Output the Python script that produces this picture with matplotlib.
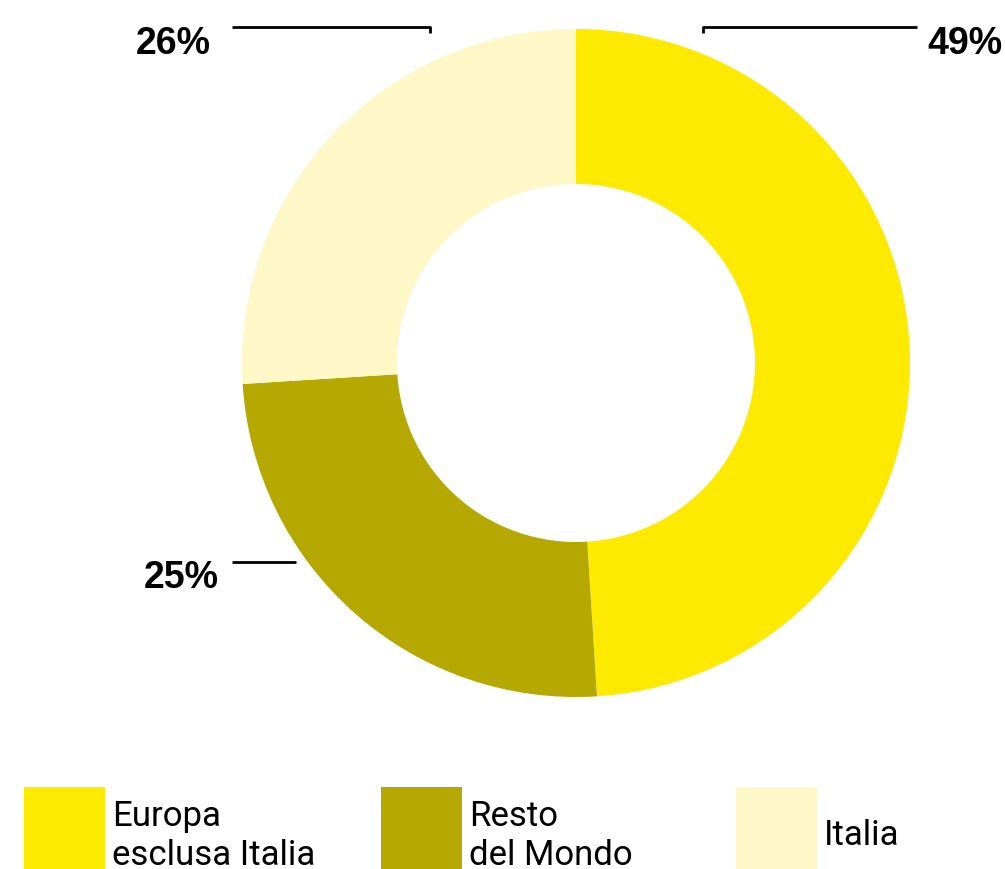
import matplotlib
matplotlib.use("Agg")
import matplotlib.pyplot as plt
from matplotlib.patches import Rectangle

# ---- DATA ----
labels = ["Europa\nesclusa Italia", "Resto\ndel Mondo", "Italia"]
shares = [49, 25, 26]
colors = ["#FDEA00", "#B5A800", "#FEF8C9"]

# ---- FIGURE (pixel coordinates, origin bottom-left) ----
W, H = 1005, 870
fig = plt.figure(figsize=(W / 100, H / 100), dpi=100)
ax = fig.add_axes([0, 0, 1, 1])

cx, cy = 576, H - 364
R, r = 334, 179
ax.pie(shares, colors=colors, startangle=90, counterclock=False,
       center=(cx, cy), radius=R, frame=True,
       wedgeprops=dict(width=R - r, linewidth=0))
ax.set_xlim(0, W)
ax.set_ylim(0, H)
ax.set_aspect("equal")
ax.axis("off")

# percentage labels with leader lines
pct_font = dict(family="Liberation Sans", fontsize=27, fontweight="bold", color="black")
lw = 2.0
# Europa
ax.plot([703, 703, 917], [H - 34, H - 28, H - 28], color="black", lw=lw, solid_capstyle="butt")
ax.text(927, H - 44, f"{shares[0]}%", ha="left", va="center", **pct_font)
# Italia
ax.plot([232, 430, 430], [H - 28, H - 28, H - 34], color="black", lw=lw, solid_capstyle="butt")
ax.text(211, H - 44, f"{shares[2]}%", ha="right", va="center", **pct_font)
# Resto del Mondo
ax.plot([232, 296], [H - 563, H - 563], color="black", lw=lw, solid_capstyle="butt")
ax.text(219, H - 578, f"{shares[1]}%", ha="right", va="center", **pct_font)

# legend along the bottom
leg_x = [24, 381, 736]
for x, lab, col in zip(leg_x, labels, colors):
    ax.add_patch(Rectangle((x, -20), 81, H - 788 + 20, facecolor=col, edgecolor="none"))
    ax.text(x + 88, H - 836, lab, ha="left", va="center", family="Roboto",
            fontsize=25, linespacing=1.26, color="black")

fig.savefig("out.png", dpi=100)
